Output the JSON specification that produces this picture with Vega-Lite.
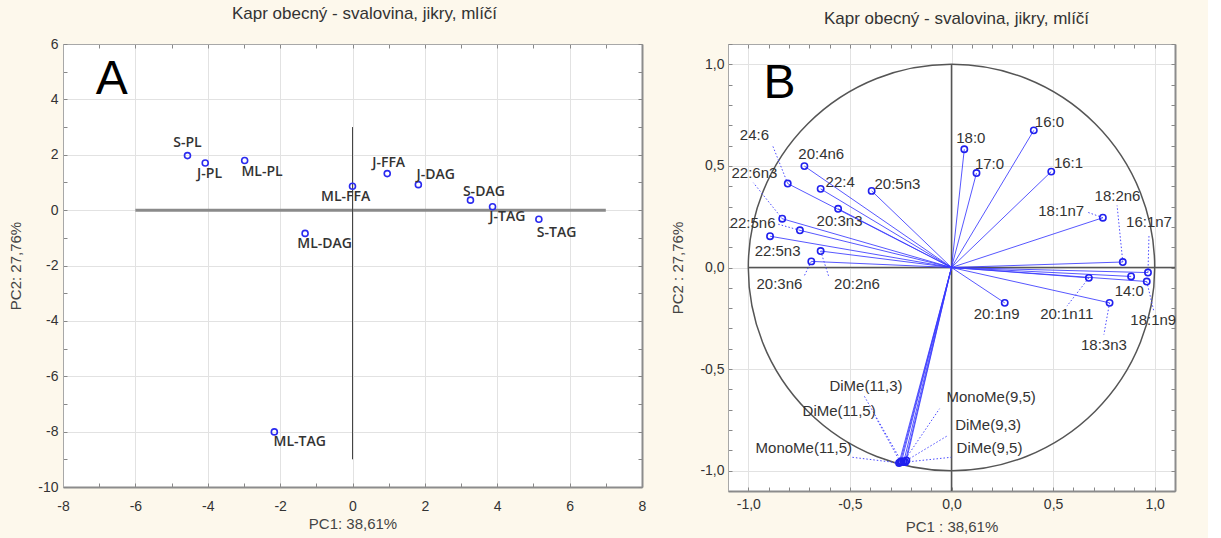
{
  "$schema": "https://vega.github.io/schema/vega-lite/v6.json",
  "background": "#fdf8ec",
  "padding": {"left": 8, "top": 5, "right": 31, "bottom": 5},
  "spacing": 24,
  "config": {
    "font": "Liberation Sans",
    "view": {"fill": "white", "stroke": null},
    "axis": {"labelFont": "Liberation Sans", "titleFont": "Liberation Sans", "labelFontSize": 14, "labelColor": "#333", "titleFontSize": 15, "titleFontWeight": "normal", "titleColor": "#444", "tickColor": "#888", "tickSize": -4, "labelOverlap": false, "labelBound": false, "labelFlush": false, "gridColor": "#e2e2e2"},
    "title": {"font": "Liberation Sans", "fontSize": 17, "fontWeight": "normal", "color": "#333"}
  },
  "datasets": {
    "scores": [
      {"name": "S-PL", "x": -4.56, "y": 1.97, "lx": -4.56, "ly": 2.41},
      {"name": "J-PL", "x": -4.07, "y": 1.70, "lx": -3.95, "ly": 1.32},
      {"name": "ML-PL", "x": -2.98, "y": 1.79, "lx": -2.50, "ly": 1.38},
      {"name": "ML-FFA", "x": 0.0, "y": 0.86, "lx": -0.19, "ly": 0.48},
      {"name": "J-FFA", "x": 0.96, "y": 1.32, "lx": 1.0, "ly": 1.69},
      {"name": "J-DAG", "x": 1.82, "y": 0.92, "lx": 2.30, "ly": 1.27},
      {"name": "S-DAG", "x": 3.26, "y": 0.36, "lx": 3.63, "ly": 0.67},
      {"name": "J-TAG", "x": 3.87, "y": 0.12, "lx": 4.28, "ly": -0.24},
      {"name": "S-TAG", "x": 5.15, "y": -0.33, "lx": 5.64, "ly": -0.83},
      {"name": "ML-DAG", "x": -1.31, "y": -0.84, "lx": -0.77, "ly": -1.22},
      {"name": "ML-TAG", "x": -2.16, "y": -8.01, "lx": -1.46, "ly": -8.39}
    ],
    "loadings": [
      {"name": "18:0", "x": 0.063, "y": 0.582, "lx": 0.095, "ly": 0.635},
      {"name": "16:0", "x": 0.405, "y": 0.675, "lx": 0.482, "ly": 0.714},
      {"name": "17:0", "x": 0.123, "y": 0.465, "lx": 0.187, "ly": 0.509},
      {"name": "16:1", "x": 0.491, "y": 0.472, "lx": 0.576, "ly": 0.513},
      {"name": "18:1n7", "x": 0.745, "y": 0.245, "lx": 0.540, "ly": 0.276, "ex": 0.667, "ey": 0.273},
      {"name": "18:2n6", "x": 0.843, "y": 0.027, "lx": 0.817, "ly": 0.354, "ex": 0.815, "ey": 0.305},
      {"name": "16:1n7", "x": 0.967, "y": -0.025, "lx": 0.972, "ly": 0.223, "ex": 0.972, "ey": 0.16},
      {"name": "14:0", "x": 0.884, "y": -0.044, "lx": 0.875, "ly": -0.115},
      {"name": "18:1n9", "x": 0.961, "y": -0.069, "lx": 0.993, "ly": -0.256, "ex": 0.997, "ey": -0.22},
      {"name": "20:1n11", "x": 0.676, "y": -0.051, "lx": 0.567, "ly": -0.230, "ex": 0.568, "ey": -0.19},
      {"name": "18:3n3", "x": 0.778, "y": -0.174, "lx": 0.750, "ly": -0.382, "ex": 0.750, "ey": -0.33},
      {"name": "20:1n9", "x": 0.262, "y": -0.174, "lx": 0.222, "ly": -0.230},
      {"name": "24:6", "x": -0.806, "y": 0.413, "lx": -0.970, "ly": 0.651, "ex": -0.882, "ey": 0.604},
      {"name": "20:4n6", "x": -0.724, "y": 0.499, "lx": -0.641, "ly": 0.557},
      {"name": "22:6n3", "x": -0.833, "y": 0.240, "lx": -0.970, "ly": 0.464, "ex": -0.975, "ey": 0.417},
      {"name": "22:4", "x": -0.644, "y": 0.387, "lx": -0.548, "ly": 0.423},
      {"name": "20:5n3", "x": -0.393, "y": 0.377, "lx": -0.266, "ly": 0.411},
      {"name": "20:3n3", "x": -0.558, "y": 0.289, "lx": -0.551, "ly": 0.228},
      {"name": "22:5n6", "x": -0.746, "y": 0.183, "lx": -0.979, "ly": 0.218, "ex": -0.86, "ey": 0.215},
      {"name": "22:5n3", "x": -0.893, "y": 0.154, "lx": -0.856, "ly": 0.081},
      {"name": "20:3n6", "x": -0.690, "y": 0.030, "lx": -0.847, "ly": -0.081, "ex": -0.724, "ey": -0.04},
      {"name": "20:2n6", "x": -0.644, "y": 0.081, "lx": -0.465, "ly": -0.081, "ex": -0.604, "ey": -0.045},
      {"name": "DiMe(11,3)", "x": -0.246, "y": -0.955, "lx": -0.421, "ly": -0.585, "ex": -0.431, "ey": -0.63},
      {"name": "MonoMe(9,5)", "x": -0.235, "y": -0.955, "lx": 0.195, "ly": -0.636, "ex": -0.059, "ey": -0.695},
      {"name": "DiMe(11,5)", "x": -0.252, "y": -0.958, "lx": -0.553, "ly": -0.707, "ex": -0.373, "ey": -0.737},
      {"name": "DiMe(9,3)", "x": -0.222, "y": -0.950, "lx": 0.180, "ly": -0.777, "ex": -0.018, "ey": -0.827},
      {"name": "MonoMe(11,5)", "x": -0.258, "y": -0.962, "lx": -0.727, "ly": -0.888, "ex": -0.489, "ey": -0.934},
      {"name": "DiMe(9,5)", "x": -0.228, "y": -0.958, "lx": 0.187, "ly": -0.887, "ex": -0.001, "ey": -0.934}
    ]
  },
  "hconcat": [
    {"vconcat": [
    {
      "width": 579,
      "height": 443,
      "title": {"text": "Kapr obecný - svalovina, jikry, mlíčí", "dx": 12, "offset": 14},
      "resolve": {"axis": {"x": "independent", "y": "independent"}},
      "layer": [
        {
          "data": {"values": [{}]},
          "mark": {"type": "rule", "color": "#8a8a8a", "strokeWidth": 3},
          "encoding": {
            "x": {"datum": -6, "type": "quantitative", "scale": {"domain": [-8, 8], "nice": false, "zero": false},
              "axis": {"orient": "bottom", "values": [-8,-7,-6,-5,-4,-3,-2,-1,0,1,2,3,4,5,6,7,8], "labelExpr": "datum.value % 2 == 0 ? '' + datum.value : ''", "title": "PC1: 38,61%", "labelPadding": 16, "titlePadding": 3, "grid": true, "gridOpacity": {"condition": {"test": "datum.value % 2 == 0", "value": 1}, "value": 0}, "domainColor": "#8c8c8c", "domainWidth": 2}},
            "x2": {"datum": 7},
            "y": {"datum": 0, "type": "quantitative", "scale": {"domain": [-10, 6], "nice": false, "zero": false},
              "axis": {"orient": "left", "values": [-10,-9,-8,-7,-6,-5,-4,-3,-2,-1,0,1,2,3,4,5,6], "labelExpr": "datum.value % 2 == 0 ? '' + datum.value : ''", "title": "PC2: 27,76%", "labelPadding": 9, "titlePadding": 14, "grid": true, "gridOpacity": {"condition": {"test": "datum.value % 2 == 0", "value": 1}, "value": 0}, "domainColor": "#a8a8a8", "domainWidth": 1}}
          }
        },
        {
          "data": {"values": [{}]},
          "mark": {"type": "rule", "color": "#444", "strokeWidth": 1},
          "encoding": {
            "x": {"datum": 0, "type": "quantitative",
              "axis": {"orient": "top", "values": [-8,-7,-6,-5,-4,-3,-2,-1,0,1,2,3,4,5,6,7,8], "labels": false, "title": null, "grid": false, "domainColor": "#a8a8a8", "domainWidth": 1}},
            "y": {"datum": 3, "type": "quantitative",
              "axis": {"orient": "right", "values": [-10,-9,-8,-7,-6,-5,-4,-3,-2,-1,0,1,2,3,4,5,6], "labels": false, "title": null, "grid": false, "domainColor": "#8c8c8c", "domainWidth": 2}},
            "y2": {"datum": -9}
          }
        },
        {
          "data": {"name": "scores"},
          "mark": {"type": "point", "shape": "circle", "size": 36, "color": "#2a2af0", "strokeWidth": 1.6, "filled": false, "opacity": 1},
          "encoding": {
            "x": {"field": "x", "type": "quantitative", "axis": null},
            "y": {"field": "y", "type": "quantitative", "axis": null}
          }
        },
        {
          "data": {"name": "scores"},
          "mark": {"type": "text", "font": "Open Sans", "fontWeight": 600, "fontSize": 14, "color": "#333", "align": "center", "baseline": "middle"},
          "encoding": {
            "x": {"field": "lx", "type": "quantitative", "axis": null},
            "y": {"field": "ly", "type": "quantitative", "axis": null},
            "text": {"field": "name"}
          }
        },
        {
          "data": {"values": [{}]},
          "mark": {"type": "text", "text": "A", "fontSize": 48, "color": "#000", "align": "center", "baseline": "middle", "font": "Liberation Sans"},
          "encoding": {
            "x": {"datum": -6.65, "type": "quantitative", "axis": null},
            "y": {"datum": 4.7, "type": "quantitative", "axis": null}
          }
        }
      ]
    }
    ]},
    {"vconcat": [
    {
      "width": 447,
      "height": 447,
      "title": {"text": "Kapr obecný - svalovina, jikry, mlíčí", "dx": 5, "offset": 9},
      "resolve": {"axis": {"x": "independent", "y": "independent"}},
      "layer": [
        {
          "data": {"values": [{}]},
          "mark": {"type": "rule", "color": "#555", "strokeWidth": 1.5},
          "encoding": {
            "x": {"datum": -1, "type": "quantitative", "scale": {"domain": [-1.1, 1.1], "nice": false, "zero": false},
              "axis": {"orient": "bottom", "values": [-1.1,-1.0,-0.9,-0.8,-0.7,-0.6,-0.5,-0.4,-0.3,-0.2,-0.1,0,0.1,0.2,0.3,0.4,0.5,0.6,0.7,0.8,0.9,1.0,1.1], "labelExpr": "abs(datum.value*2 - round(datum.value*2)) < 0.01 ? replace(replace(format(datum.value, '.1f'), '.', ','), '\u2212', '-') : ''", "title": "PC1 : 38,61%", "labelPadding": 10, "titlePadding": 8, "grid": true, "gridOpacity": {"condition": {"test": "abs(datum.value*2 - round(datum.value*2)) < 0.01", "value": 1}, "value": 0}, "domainColor": "#8c8c8c", "domainWidth": 2}},
            "x2": {"datum": 1.1},
            "y": {"datum": 0, "type": "quantitative", "scale": {"domain": [-1.1, 1.1], "nice": false, "zero": false},
              "axis": {"orient": "left", "values": [-1.1,-1.0,-0.9,-0.8,-0.7,-0.6,-0.5,-0.4,-0.3,-0.2,-0.1,0,0.1,0.2,0.3,0.4,0.5,0.6,0.7,0.8,0.9,1.0,1.1], "labelExpr": "abs(datum.value*2 - round(datum.value*2)) < 0.01 ? replace(replace(format(datum.value, '.1f'), '.', ','), '\u2212', '-') : ''", "title": "PC2 : 27,76%", "labelPadding": 8, "titlePadding": 14, "grid": true, "gridOpacity": {"condition": {"test": "abs(datum.value*2 - round(datum.value*2)) < 0.01", "value": 1}, "value": 0}, "domainColor": "#a8a8a8", "domainWidth": 1}}
          }
        },
        {
          "data": {"values": [{}]},
          "mark": {"type": "rule", "color": "#555", "strokeWidth": 1.5},
          "encoding": {
            "x": {"datum": 0, "type": "quantitative",
              "axis": {"orient": "top", "values": [-1.1,-1.0,-0.9,-0.8,-0.7,-0.6,-0.5,-0.4,-0.3,-0.2,-0.1,0,0.1,0.2,0.3,0.4,0.5,0.6,0.7,0.8,0.9,1.0,1.1], "labels": false, "title": null, "grid": false, "domainColor": "#a8a8a8", "domainWidth": 1}},
            "y": {"datum": 1, "type": "quantitative",
              "axis": {"orient": "right", "values": [-1.1,-1.0,-0.9,-0.8,-0.7,-0.6,-0.5,-0.4,-0.3,-0.2,-0.1,0,0.1,0.2,0.3,0.4,0.5,0.6,0.7,0.8,0.9,1.0,1.1], "labels": false, "title": null, "grid": false, "domainColor": "#8c8c8c", "domainWidth": 2}},
            "y2": {"datum": -1.1}
          }
        },
        {
          "data": {"values": [{}]},
          "mark": {"type": "arc", "theta": 6.2832, "radius": 203.2, "filled": false, "fill": null, "stroke": "#555", "strokeWidth": 1.5},
          "encoding": {
            "x": {"datum": 0, "type": "quantitative", "axis": null},
            "y": {"datum": 0, "type": "quantitative", "axis": null}
          }
        },
        {
          "data": {"name": "loadings"},
          "mark": {"type": "rule", "color": "#3a3aff", "strokeWidth": 1, "opacity": 0.85},
          "encoding": {
            "x": {"field": "x", "type": "quantitative", "axis": null},
            "y": {"field": "y", "type": "quantitative", "axis": null},
            "x2": {"datum": 0},
            "y2": {"datum": 0}
          }
        },
        {
          "data": {"name": "loadings"},
          "transform": [{"filter": "isValid(datum.ex)"}],
          "mark": {"type": "rule", "color": "#4b4bff", "strokeWidth": 1, "strokeDash": [1.5, 2]},
          "encoding": {
            "x": {"field": "x", "type": "quantitative", "axis": null},
            "y": {"field": "y", "type": "quantitative", "axis": null},
            "x2": {"field": "ex"},
            "y2": {"field": "ey"}
          }
        },
        {
          "data": {"name": "loadings"},
          "mark": {"type": "point", "shape": "circle", "size": 40, "color": "#2020ee", "strokeWidth": 1.6, "filled": false, "opacity": 1},
          "encoding": {
            "x": {"field": "x", "type": "quantitative", "axis": null},
            "y": {"field": "y", "type": "quantitative", "axis": null}
          }
        },
        {
          "data": {"name": "loadings"},
          "mark": {"type": "text", "fontSize": 15, "color": "#333", "align": "center", "baseline": "middle", "font": "Liberation Sans"},
          "encoding": {
            "x": {"field": "lx", "type": "quantitative", "axis": null},
            "y": {"field": "ly", "type": "quantitative", "axis": null},
            "text": {"field": "name"}
          }
        },
        {
          "data": {"values": [{}]},
          "mark": {"type": "text", "text": "B", "fontSize": 48, "color": "#000", "align": "center", "baseline": "middle", "font": "Liberation Sans"},
          "encoding": {
            "x": {"datum": -0.847, "type": "quantitative", "axis": null},
            "y": {"datum": 0.901, "type": "quantitative", "axis": null}
          }
        }
      ]
    }
    ]}
  ]
}
